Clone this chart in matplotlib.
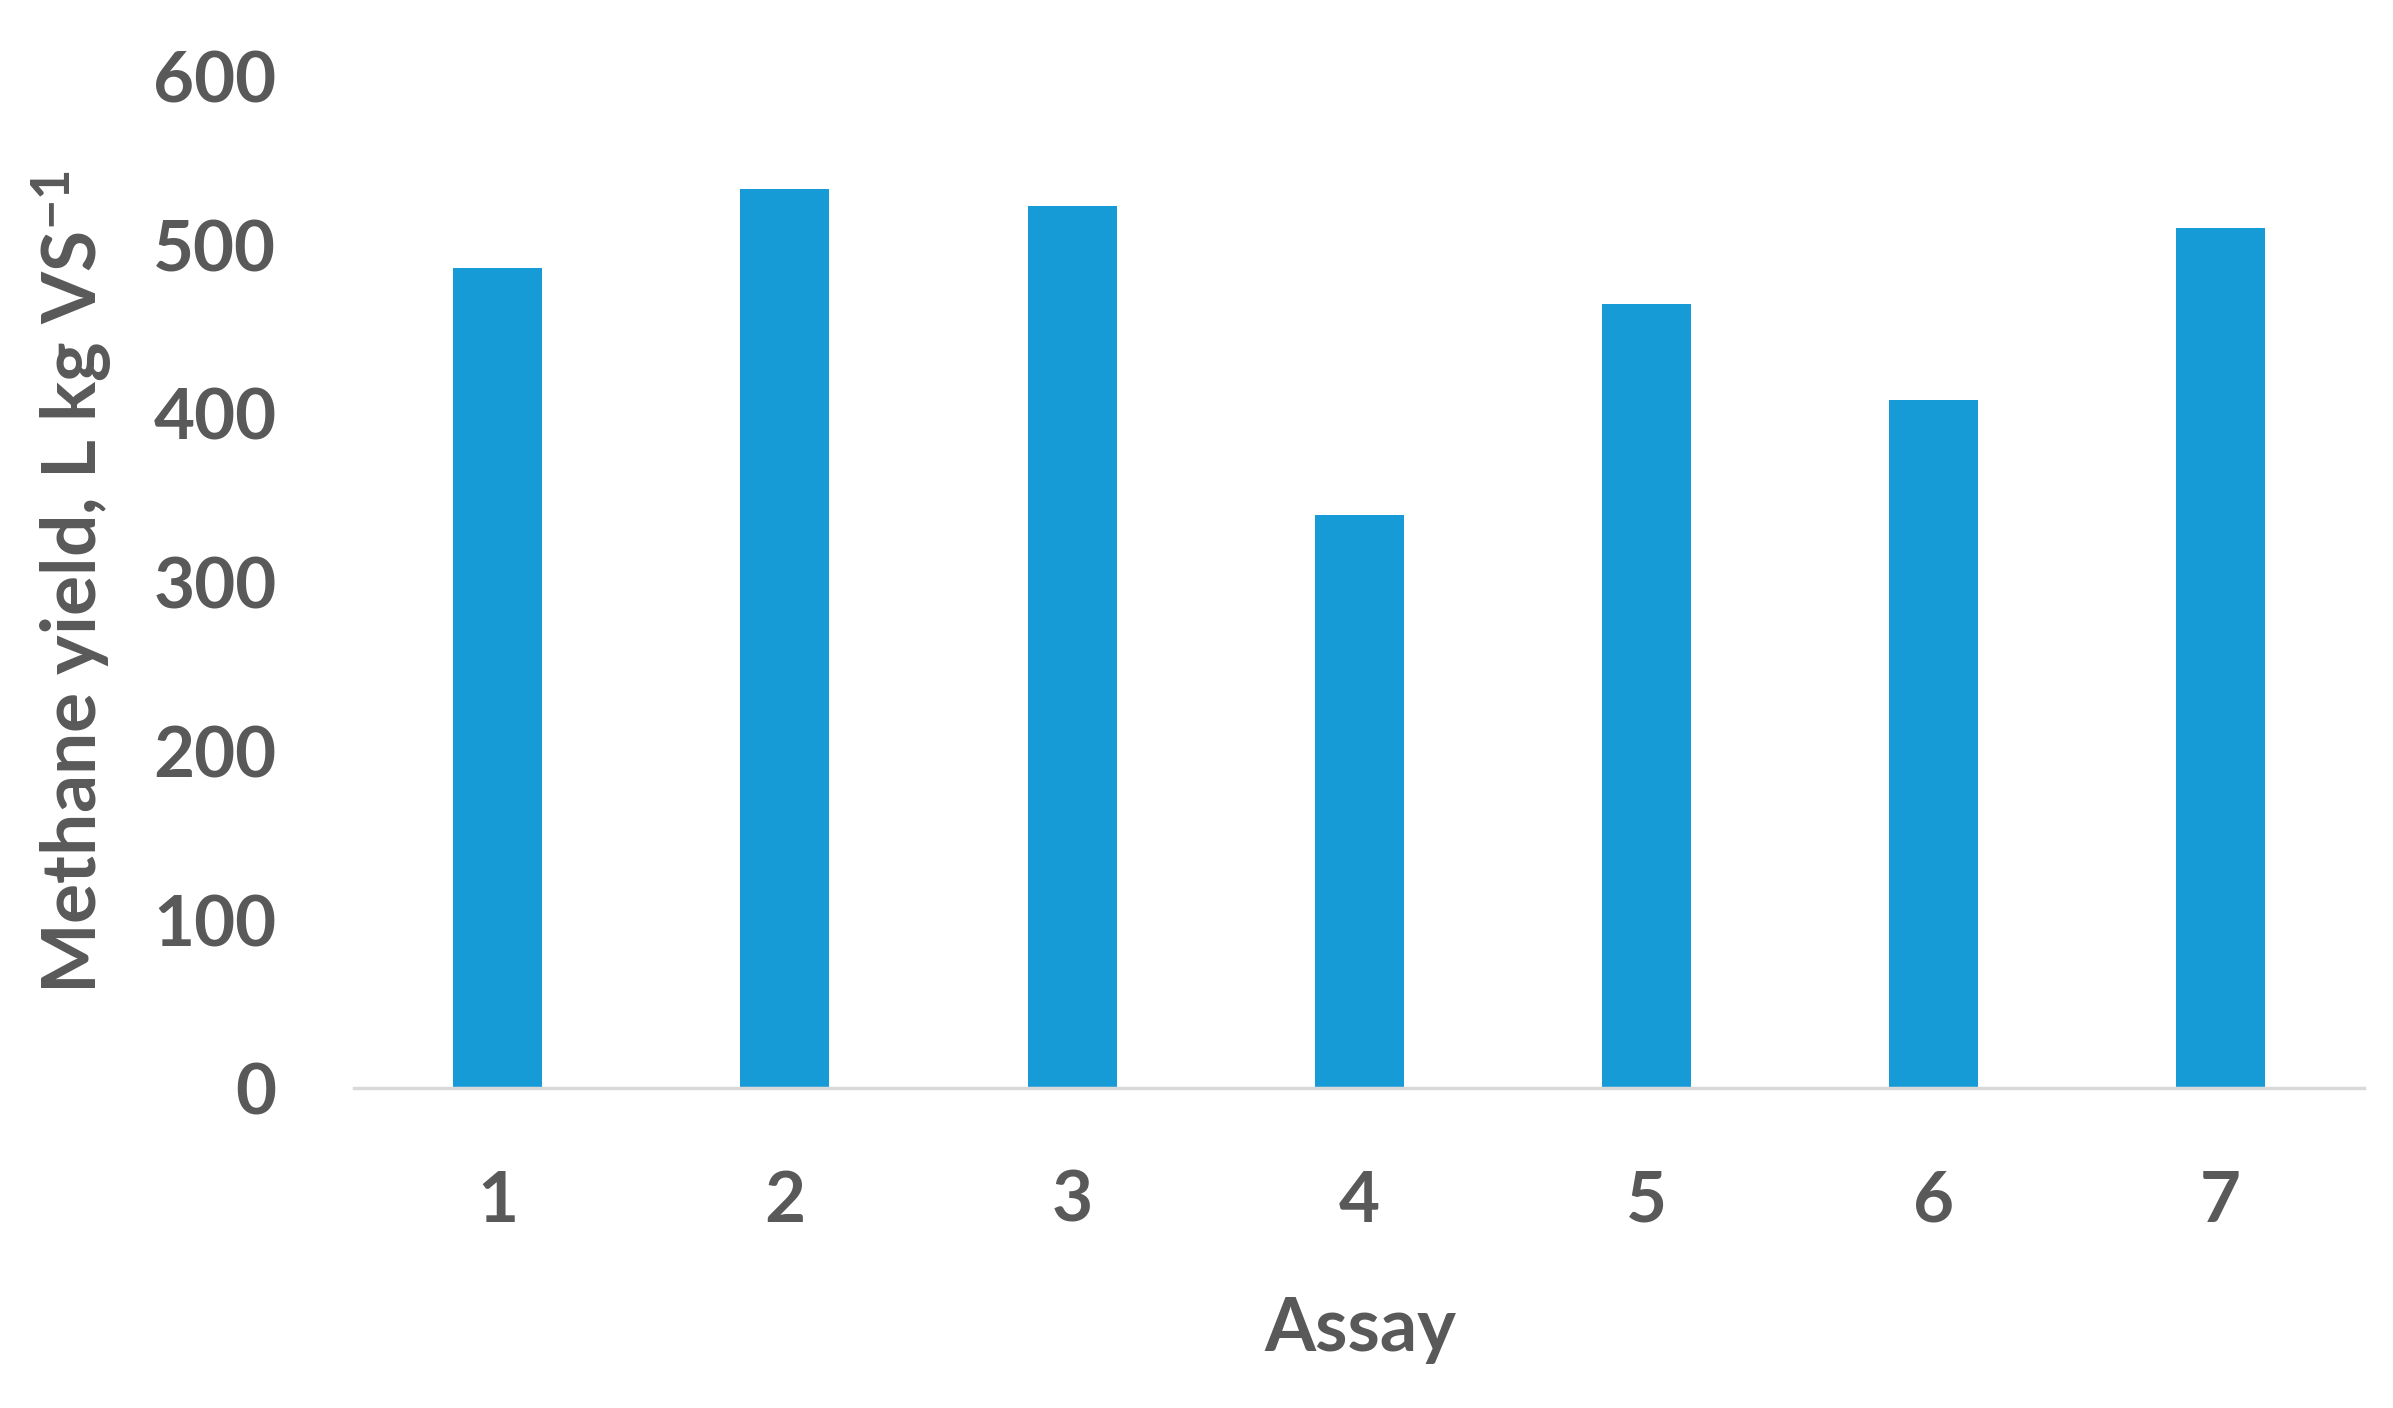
import matplotlib
matplotlib.use("Agg")
import matplotlib.pyplot as plt

assays = ["1", "2", "3", "4", "5", "6", "7"]
methane_yield = [486, 533, 523, 340, 465, 408, 510]
y_ticks = [0, 100, 200, 300, 400, 500, 600]

plt.rcParams['font.family'] = ['Lato', 'DejaVu Sans']
plt.rcParams['mathtext.default'] = 'regular'

grey = "#595959"
blue = "#179bd7"
fs = 51

fig = plt.figure(figsize=(23.93, 14.08), dpi=100)
ax = fig.add_axes([0.148, 0.227, 0.840, 0.719])

pos = list(range(1, len(assays) + 1))
ax.bar(pos, methane_yield, width=0.31, color=blue, zorder=2)

ax.set_xlim(0.5, len(assays) + 0.5)
ax.set_ylim(0, 600)
ax.set_xticks(pos)
ax.set_xticklabels(assays)
ax.set_yticks(y_ticks)

for s in ["top", "right", "left"]:
    ax.spines[s].set_visible(False)
ax.spines["bottom"].set_color("#d9d9d9")
ax.spines["bottom"].set_linewidth(2.5)

ax.tick_params(axis="both", length=0, labelsize=fs, colors=grey)
ax.tick_params(axis="x", pad=58)
ax.tick_params(axis="y", pad=56)
for lab in ax.get_xticklabels() + ax.get_yticklabels():
    lab.set_fontweight("bold")

fig.text(1360 / 2393, 1 - 1330 / 1408, "Assay", ha="center", va="center",
         fontsize=fs + 2, fontweight="bold", color=grey)
fig.text(72 / 2393, 1 - 582 / 1408, "Methane yield, L kg VS$^{-1}$", rotation=90,
         ha="center", va="center", fontsize=fs + 3, fontweight="bold", color=grey)

fig.savefig("out.png", dpi=100, facecolor="white")
